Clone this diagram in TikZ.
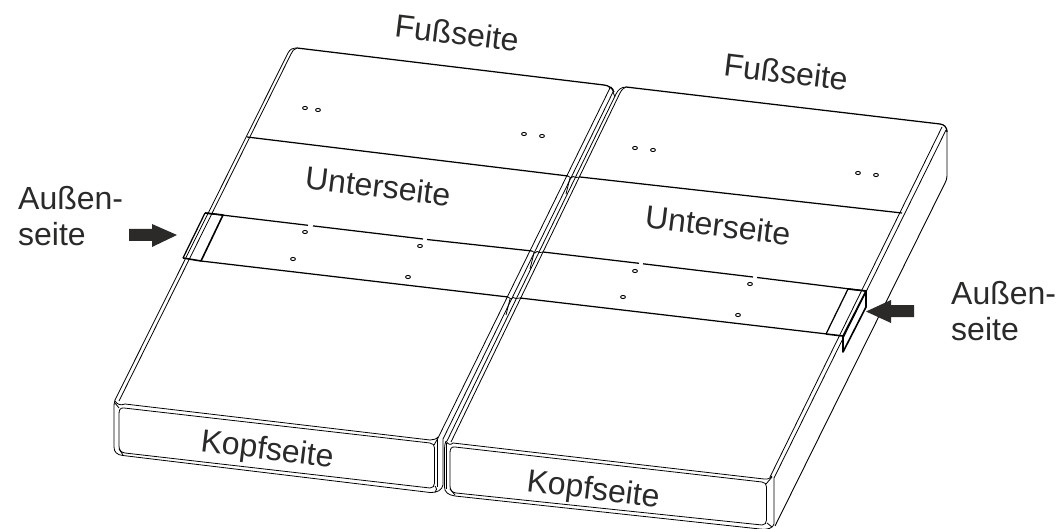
\documentclass[tikz,border=0pt]{standalone}
\usepackage{fontspec}
\setmainfont{Liberation Sans}
\definecolor{ink}{HTML}{2B2A29}
\tikzset{
  thin line/.style={draw=black,line width=0.8pt,line join=round},
  band line/.style={draw=black,line width=1.25pt},
  flap line/.style={draw=black,line width=1.6pt,line join=round},
  hole/.style={draw=black,line width=0.9pt,fill=white},
  block arrow/.style={fill=ink,draw=none},
  slanted label/.style={text=ink,font=\fontsize{32}{32}\selectfont,rotate=-7,inner sep=0pt},
  side label/.style={text=ink,font=\fontsize{32}{36.5}\selectfont,align=left,anchor=north west,inner sep=0pt}
}
\begin{document}
\begin{tikzpicture}[x=1pt,y=-1pt]
\useasboundingbox (0,0) rectangle (1059,529);
% left panel top outline and left edges
\draw[band line] (297,48) -- (604,85) .. controls (609,85.6) and (612,88) .. (614,92);
\draw[thin line] (297,48) .. controls (293,48) and (290,49) .. (288,53) -- (115,400);
\draw[thin line] (297,48) .. controls (294,49) and (292,51) .. (291,54) -- (119,401);
% left panel right edges
\draw[thin line] (609,87) .. controls (610,88) and (610,89) .. (609,90) -- (438,438);
\draw[thin line] (611,87) .. controls (613,89) and (614,90) .. (613,92) -- (443,439);
% right panel top outline and edges
\draw[band line] (626,87) -- (940,124) .. controls (944,124.5) and (947,127) .. (947,132);
\draw[thin line] (626,87) .. controls (621,87) and (618,90) .. (616,94) -- (447,441);
\draw[thin line] (626,87) .. controls (624,88) and (622,89) .. (620,93) -- (451,442);
\draw[thin line] (613,92) -- (615,97);
\draw[thin line] (942,127) -- (770,477);
\draw[thin line] (946,130) -- (774,478);
% right outer side
\draw[draw=black,line width=0.9pt] (947,130) -- (947,176) .. controls (947,179) and (946,181) .. (945,183) -- (775,526);
% band lines left panel
\draw[band line] (247,137) -- (568,176);
\draw[band line] (205,213) -- (308,225.3);
\draw[band line] (313,225.9) -- (423,239);
\draw[band line] (427,239.5) -- (532,251);
\draw[band line] (201,261) -- (508,297);
% band lines right panel
\draw[band line] (580,177) -- (902,213);
\draw[band line] (543,252) -- (639,263.3);
\draw[band line] (643,263.8) -- (753,277);
\draw[band line] (757,277.5) -- (866,291);
\draw[band line] (520,298) -- (827,334);
% small jogs where the bands cross the gap
\draw[thin line] (568,176) -- (571,178) -- (573,176.5) -- (576,177.5) -- (580,177);
\draw[thin line] (570,178) -- (566,194);
\draw[thin line] (532,251) -- (535,253) -- (537,251.5) -- (540,252.5) -- (543,252);
\draw[thin line] (534,253) -- (530,269);
\draw[thin line] (508,297) -- (511,299) -- (513,297.5) -- (516,298.5) -- (520,298);
\draw[thin line] (510,299) -- (506,315);
% left flap
\draw[band line] (205,213) -- (183,258);
\draw[flap line] (205,213) -- (223,215) -- (201,261) -- (183,258);
% right flap
\draw[flap line] (848,289) -- (866,291) -- (843,336) -- (826,334);
\draw[band line] (848,289) -- (826,334);
\draw[flap line] (866,291) -- (866,307) -- (843,352) -- (843,336);
% left front face
\draw[thin line] (125,404) -- (430,440) .. controls (433,440) and (437,439) .. (438,437);
\draw[thin line] (124,408) -- (430,443) .. controls (433,443.5) and (434.5,445) .. (434.5,448) -- (434.5,483) .. controls (434.5,486) and (433,488) .. (430,488) -- (125,453) .. controls (121,452.5) and (119,450) .. (119,446) -- (119,414) .. controls (119,410) and (120,407.5) .. (124,408);
\draw[thin line] (115,400) .. controls (114,403) and (114,405) .. (114,408) -- (114,447) .. controls (114,452) and (117,455) .. (123,455.5) -- (430,492.5) .. controls (437,493) and (442,490) .. (443,485) -- (443,439);
\draw[thin line] (115,401) .. controls (117,404) and (120,406) .. (125,404);
\draw[thin line] (437,439) -- (437,487);
\draw[thin line] (435,486) .. controls (437,489) and (437,490) .. (435,492);
\draw[thin line] (119,449) -- (123,455);
\draw[thin line] (119,408) -- (115,403);
\draw[thin line] (434,445) -- (438,438);
% right front face
\draw[thin line] (453,443) -- (764,479) .. controls (768,479.5) and (771,478) .. (772,476);
\draw[thin line] (455,447) -- (762,482) .. controls (765,482.5) and (766.5,484) .. (766.5,487) -- (766.5,520) .. controls (766.5,523) and (765,525) .. (762,525) -- (456,493) .. controls (452,492.5) and (450,490) .. (450,486) -- (450,453) .. controls (450,449) and (451,446.5) .. (455,447);
\draw[thin line] (446,441) .. controls (445,443) and (444.5,446) .. (444.5,449) -- (444.5,487) .. controls (444.5,492) and (448,495) .. (455,496) -- (760,529) .. controls (768,530) and (773,528) .. (774,524) -- (774,478);
\draw[thin line] (446,441) .. controls (448,445) and (451,445) .. (453,443);
\draw[thin line] (446.5,443) -- (446.5,489);
\draw[thin line] (450,489) -- (455,495);
\draw[thin line] (766,484) -- (772,477);
\draw[thin line] (767,523) -- (772,527);
% holes
\foreach \hx/\hy in {305/108,318/110,524/134,542/136,635/148,653/150,858/173,876/175,
  305/232,420/246,293/259,408/277,635/271,750/284,623/297,738/315}
  \draw[hole] (\hx,\hy) ellipse [x radius=2.4pt,y radius=1.6pt];
% block arrows
\fill[block arrow] (129,229) -- (152,229) -- (152,224) -- (177,235) -- (152,247) -- (152,241) -- (129,241) -- cycle;
\fill[block arrow] (914,305) -- (891,305) -- (891,300) -- (866,311.5) -- (891,323) -- (891,317) -- (914,317) -- cycle;
% labels
\node[slanted label] (foot1) at (457,33) {Fußseite};
\node[slanted label] (foot2) at (786,72) {Fußseite};
\node[slanted label] (under1) at (378,186) {Unterseite};
\node[slanted label] (under2) at (718,225) {Unterseite};
\node[slanted label] (head1) at (267,451) {Kopfseite};
\node[slanted label] (head2) at (593,491) {Kopfseite};
\node[side label] (out1) at (18,186) {Außen-\\seite};
\node[side label] (out2) at (951,281) {Außen-\\seite};
\end{tikzpicture}
\end{document}
